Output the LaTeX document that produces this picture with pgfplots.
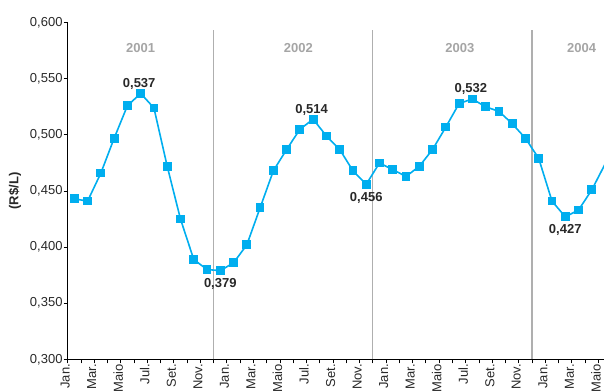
\documentclass[border=0pt]{standalone}
\usepackage{pgfplots}
\pgfplotsset{compat=1.18}
\usepackage{fontspec}
\setmainfont{Liberation Sans}
\usetikzlibrary{calc}

\definecolor{serie}{RGB}{0,174,239}
\definecolor{divisa}{RGB}{175,175,175}
\definecolor{ano}{RGB}{165,165,165}
\definecolor{rotulo}{RGB}{40,40,40}

\newcommand{\fs}{\fontsize{13bp}{15bp}\selectfont}

% Monthly average price (R$/L); month k is plotted at k+0.5
\pgfplotstableread{
x      y
0.5    0.443
1.5    0.441
2.5    0.466
3.5    0.497
4.5    0.526
5.5    0.537
6.5    0.524
7.5    0.472
8.5    0.425
9.5    0.389
10.5   0.380
11.5   0.379
12.5   0.386
13.5   0.402
14.5   0.435
15.5   0.468
16.5   0.487
17.5   0.505
18.5   0.514
19.5   0.499
20.5   0.487
21.5   0.468
22.5   0.456
23.5   0.475
24.5   0.469
25.5   0.463
26.5   0.472
27.5   0.487
28.5   0.507
29.5   0.528
30.5   0.532
31.5   0.525
32.5   0.521
33.5   0.510
34.5   0.497
35.5   0.479
36.5   0.441
37.5   0.427
38.5   0.433
39.5   0.451
40.5   0.474
}\precos

% Highlighted extremes
\pgfplotstableread{
x      y
5.5    0.537
18.5   0.514
30.5   0.532
}\picos
\pgfplotstableread{
x      y
11.5   0.379
22.5   0.456
37.5   0.427
}\vales

\begin{document}
\begin{tikzpicture}
\begin{axis}[
  scale only axis,
  width=536.3bp, height=336.6bp,
  xmin=0, xmax=40.42,
  ymin=0.3, ymax=0.6,
  axis lines*=left,
  axis line style={black, line width=1bp},
  tick align=outside,
  major tick length=4bp,
  tick style={black, line width=0.9bp},
  clip marker paths=true,
  xtick={0,...,40},
  xticklabels={Jan.,,Mar.,,Maio,,Jul.,,Set.,,Nov.,,
               Jan.,,Mar.,,Maio,,Jul.,,Set.,,Nov.,,
               Jan.,,Mar.,,Maio,,Jul.,,Set.,,Nov.,,
               Jan.,,Mar.,,Maio},
  xticklabel style={rotate=90, anchor=east, inner sep=0pt, yshift=2.5bp,
    xshift=-0.5bp, font=\fs, text=rotulo},
  ytick={0.3,0.35,...,0.61},
  yticklabel style={font=\fs, text=rotulo, inner sep=0pt, xshift=-1bp,
    /pgf/number format/.cd, fixed, fixed zerofill, precision=3, use comma,
    assume math mode=true},
  ylabel={\textbf{(R\$/L)}},
  ylabel style={at={(axis description cs:0,0.5)}, anchor=center,
    yshift=52.7bp, font=\fs, text=rotulo},
]
% year dividers
\addplot[divisa, line width=1.2bp] coordinates {(11,0.3) (11,0.5935)};
\addplot[divisa, line width=1.2bp] coordinates {(23,0.3) (23,0.5935)};
\addplot[divisa, line width=1.2bp] coordinates {(35,0.3) (35,0.5935)};

% year captions
\node[font=\fs\bfseries, text=ano] at (axis cs:5.49,0.5775) {2001};
\node[font=\fs\bfseries, text=ano] at (axis cs:17.38,0.5775) {2002};
\node[font=\fs\bfseries, text=ano] at (axis cs:29.56,0.5775) {2003};
\node[font=\fs\bfseries, text=ano] at (axis cs:38.73,0.5775) {2004};

% price series
\addplot[serie, line width=1.6bp, mark=square*,
  mark options={solid, fill=serie, draw=serie}, mark size=3.6bp]
  table[x=x, y=y] {\precos};

% value labels
\addplot[draw=none, mark=none, point meta=y,
  nodes near coords={\pgfmathprintnumber[fixed,fixed zerofill,precision=3,use comma,assume math mode=true]{\pgfplotspointmeta}},
  nodes near coords style={anchor=base, inner sep=0pt, yshift=6bp, xshift=-1.5bp,
    font=\fs\bfseries, text=rotulo}]
  table[x=x, y=y] {\picos};
\addplot[draw=none, mark=none, point meta=y,
  nodes near coords={\pgfmathprintnumber[fixed,fixed zerofill,precision=3,use comma,assume math mode=true]{\pgfplotspointmeta}},
  nodes near coords style={anchor=base, inner sep=0pt, yshift=-17bp,
    font=\fs\bfseries, text=rotulo}]
  table[x=x, y=y] {\vales};
\end{axis}
\pgfresetboundingbox
\path ($(current axis.south west)+(-67.7bp,-32.7bp)$) rectangle ($(current axis.north east)+(0bp,22.7bp)$);
\end{tikzpicture}
\end{document}
